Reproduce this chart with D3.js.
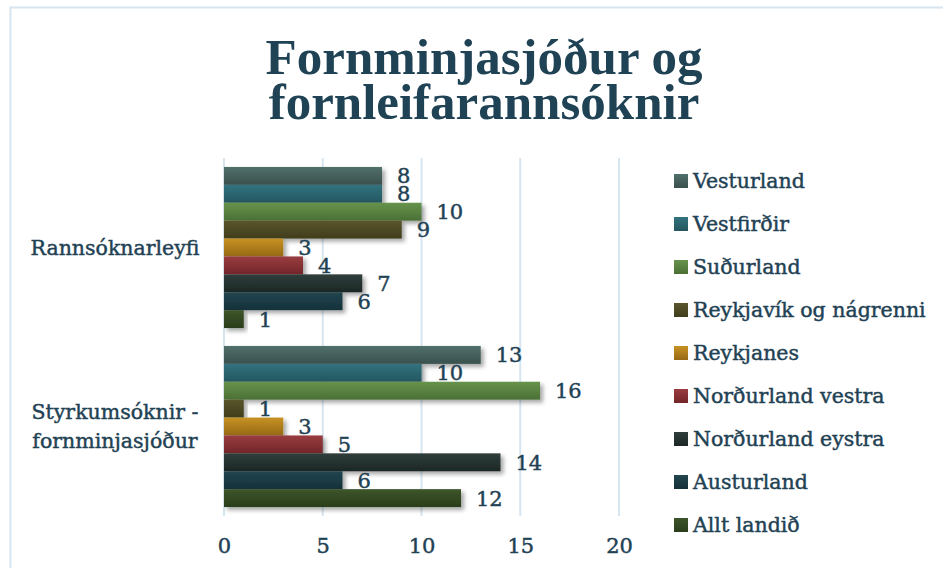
<!DOCTYPE html>
<html>
<head>
<meta charset="utf-8">
<script src="https://cdn.jsdelivr.net/npm/d3@7"></script>
<style>
  body { margin: 0; background: #fff; }
  text { fill: #1f4254; }
  .lbl { stroke: #1f4254; stroke-width: 0.45px; }
</style>
</head>
<body>
<div id="chart"></div>
<script>
// Data
const categories = ["Rannsóknarleyfi", "Styrkumsóknir - fornminjasjóður"];
const categoryLines = [["Rannsóknarleyfi"], ["Styrkumsóknir -", "fornminjasjóður"]];
const regions = [
  "Vesturland", "Vestfirðir", "Suðurland", "Reykjavík og nágrenni", "Reykjanes",
  "Norðurland vestra", "Norðurland eystra", "Austurland", "Allt landið"
];
const rannsoknarleyfi = [8, 8, 10, 9, 3, 4, 7, 6, 1];
const styrkumsoknir = [13, 10, 16, 1, 3, 5, 14, 6, 12];
const xTicks = [0, 5, 10, 15, 20];
const colorsTop = ["#51706b", "#32737f", "#67934c", "#5a552b", "#c79224", "#9a3c40", "#2f3e3c", "#22464f", "#3d552a"];
const colorsBottom = ["#3a504d", "#24565f", "#4b7035", "#403d1c", "#976914", "#722629", "#1c2725", "#14303a", "#2a3d1b"];

const seriesValues = [rannsoknarleyfi, styrkumsoknir];

// Dimensions
const dimensions = { width: 943, height: 568 };
const plot = { left: 224, right: 619, top: 158, bottom: 516 };

const svg = d3
  .select("#chart")
  .append("svg")
  .attr("width", dimensions.width)
  .attr("height", dimensions.height);

const defs = svg.append("defs");
const shadow = defs.append("filter").attr("id", "shadow")
  .attr("x", "-10%").attr("y", "-30%").attr("width", "130%").attr("height", "190%");
shadow.append("feDropShadow")
  .attr("dx", 3).attr("dy", 3).attr("stdDeviation", 2)
  .attr("flood-color", "#000").attr("flood-opacity", 0.35);

regions.forEach((r, i) => {
  const g = defs.append("linearGradient").attr("id", `grad${i}`)
    .attr("x1", 0).attr("y1", 0).attr("x2", 0).attr("y2", 1);
  g.append("stop").attr("offset", "0%").attr("stop-color", colorsTop[i]);
  g.append("stop").attr("offset", "100%").attr("stop-color", colorsBottom[i]);
});

// Chart border
svg.append("rect")
  .attr("x", 10.5).attr("y", 7.5)
  .attr("width", 1000).attr("height", 1000)
  .attr("fill", "none")
  .attr("stroke", "#d6e6f1")
  .attr("stroke-width", 2);

// Title
const title = svg.append("text")
  .attr("text-anchor", "middle")
  .style("font-family", "'Liberation Serif', serif")
  .style("font-weight", "bold")
  .style("font-size", "51px");
title.append("tspan").attr("x", 484).attr("y", 74).text("Fornminjasjóður og");
title.append("tspan").attr("x", 484).attr("y", 119).text("fornleifarannsóknir");

// Scales
const xScale = d3.scaleLinear().domain([0, 20]).range([plot.left, plot.right]);
const yScale = d3.scaleBand().domain(categories).range([plot.top, plot.bottom])
  .paddingInner(0.1).paddingOuter(0.05);
const ySub = d3.scaleBand().domain(regions).range([0, yScale.bandwidth()]);

// Grid
svg.append("g")
  .selectAll("line")
  .data(xTicks)
  .join("line")
  .attr("x1", (d) => xScale(d))
  .attr("x2", (d) => xScale(d))
  .attr("y1", plot.top)
  .attr("y2", plot.bottom)
  .attr("stroke", "#d6e6f1")
  .attr("stroke-width", 2);

// Bars
const groups = svg.append("g")
  .selectAll("g")
  .data(categories)
  .join("g")
  .attr("transform", (d) => `translate(0, ${yScale(d)})`);

groups.selectAll("rect")
  .data((d, gi) => regions.map((r, i) => ({ region: r, i, value: seriesValues[gi][i] })))
  .join("rect")
  .attr("x", xScale(0))
  .attr("y", (d) => ySub(d.region))
  .attr("width", (d) => xScale(d.value) - xScale(0))
  .attr("height", ySub.bandwidth())
  .attr("fill", (d) => `url(#grad${d.i})`)
  .attr("filter", "url(#shadow)");

// Value labels
groups.selectAll("text")
  .data((d, gi) => regions.map((r, i) => ({ region: r, i, value: seriesValues[gi][i] })))
  .join("text")
  .classed("lbl", true)
  .attr("x", (d) => xScale(d.value) + 15)
  .attr("y", (d) => ySub(d.region) + ySub.bandwidth() / 2)
  .attr("dy", "0.36em")
  .style("font-family", "'DejaVu Serif', serif")
  .style("font-size", "21px")
  .text((d) => d.value);

// Category labels
categories.forEach((c, ci) => {
  const lines = categoryLines[ci];
  const cy = yScale(c) + yScale.bandwidth() / 2;
  const lh = 29;
  svg.append("text")
    .classed("lbl", true)
    .attr("text-anchor", "middle")
    .style("font-family", "'DejaVu Serif', serif")
    .style("font-size", "20.5px")
    .selectAll("tspan")
    .data(lines)
    .join("tspan")
    .attr("x", 115)
    .attr("y", (d, i) => cy + (i - (lines.length - 1) / 2) * lh)
    .attr("dy", "0.36em")
    .text((d) => d);
});

// Axis
const axis = d3.axisBottom(xScale).tickValues(xTicks).tickSize(0).tickPadding(0);
const axisG = svg.append("g")
  .attr("transform", `translate(0, ${plot.bottom + 22})`)
  .call(axis);
axisG.select(".domain").remove();
axisG.selectAll("text")
  .classed("lbl", true)
  .attr("fill", "#1f4254")
  .style("font-family", "'DejaVu Serif', serif")
  .style("font-size", "21px");

// Legend
const legend = svg.append("g")
  .selectAll("g")
  .data(regions)
  .join("g")
  .attr("transform", (d, i) => `translate(674, ${181 + i * 43})`);
legend.append("rect")
  .attr("x", 0).attr("y", -7)
  .attr("width", 14).attr("height", 14)
  .attr("fill", (d, i) => `url(#grad${i})`);
legend.append("text")
  .classed("lbl", true)
  .attr("x", 19)
  .attr("dy", "0.36em")
  .style("font-family", "'DejaVu Serif', serif")
  .style("font-size", "20.5px")
  .text((d) => d);
</script>
</body>
</html>
